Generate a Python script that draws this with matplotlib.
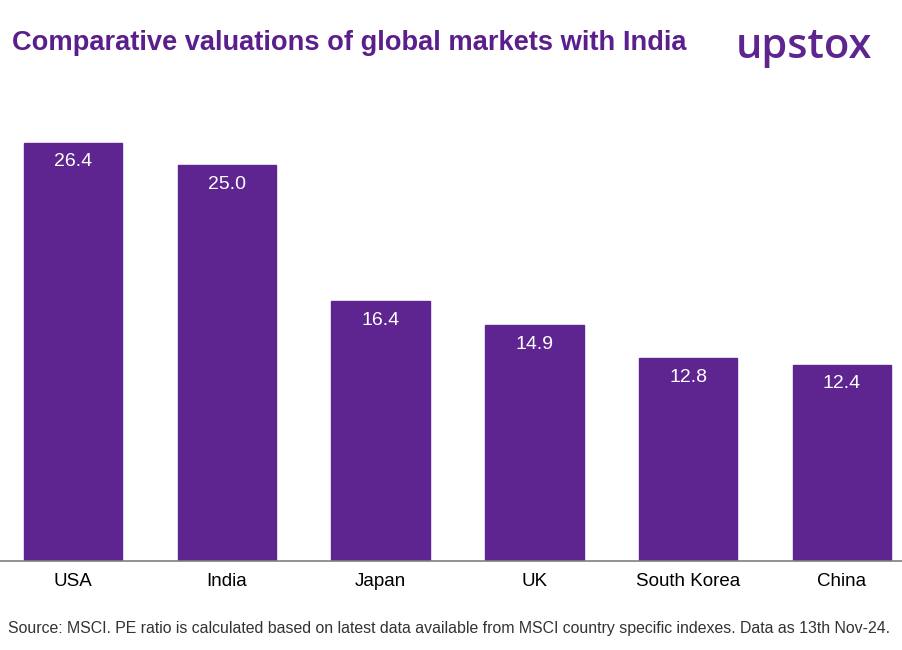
import matplotlib.pyplot as plt

plt.rcParams['font.family'] = ['Liberation Sans', 'DejaVu Sans']

countries = ["USA", "India", "Japan", "UK", "South Korea", "China"]
pe_ratio = [26.4, 25.0, 16.4, 14.9, 12.8, 12.4]

PURPLE = "#5e2590"

fig = plt.figure(figsize=(9.03, 6.5), dpi=100)
ax = fig.add_axes([0, 89 / 650, 1, 461 / 650])

x = range(len(countries))
bars = ax.bar(x, pe_ratio, width=0.64, color=PURPLE, edgecolor=PURPLE)

for xi, v in zip(x, pe_ratio):
    ax.annotate(f"{v:.1f}", (xi, v), xytext=(0, -7.5), textcoords="offset points",
                ha="center", va="top", color="white", fontsize=14)

ax.set_xlim(-0.475, 5.397)
ax.set_ylim(0, 29.12)
ax.set_xticks(list(x))
ax.set_xticklabels(countries, fontsize=13.5)
ax.tick_params(axis="x", length=0, pad=9)
ax.set_yticks([])
for side in ["top", "right", "left"]:
    ax.spines[side].set_visible(False)
ax.spines["bottom"].set_color("#7f7f7f")
ax.spines["bottom"].set_linewidth(1.2)

fig.text(12 / 903, 1 - 43 / 650, "Comparative valuations of global markets with India",
         fontsize=19.6, fontweight="bold", color="#5a1f8c", va="center", ha="left")
fig.text(872 / 903, 1 - 47 / 650, "upstox", fontsize=30, color=PURPLE,
         fontfamily="Open Sans", fontweight="semibold", va="center", ha="right")
fig.text(8 / 903, 1 - 628 / 650,
         "Source: MSCI. PE ratio is calculated based on latest data available from MSCI "
         "country specific indexes. Data as 13th Nov-24.",
         fontsize=11.45, color="#333333", va="center", ha="left")

fig.savefig("out.png", dpi=100)
